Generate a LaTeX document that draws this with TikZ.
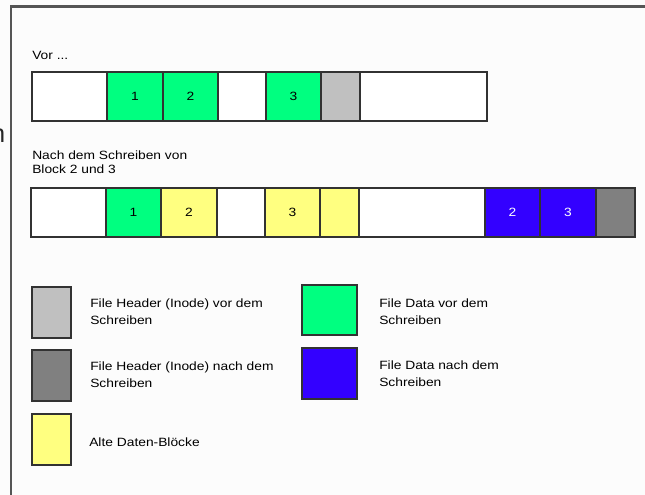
\documentclass[tikz,border=0pt]{standalone}
\usepackage{fontspec}
\setmainfont[FakeStretch=1.15]{Liberation Sans}
\newfontfamily\cutfont{Liberation Sans}
\usetikzlibrary{fit}
\definecolor{fgreen}{RGB}{0,255,128}
\definecolor{fyellow}{RGB}{255,255,128}
\definecolor{fblue}{RGB}{51,0,255}
\definecolor{lgray}{RGB}{192,192,192}
\definecolor{dgray}{RGB}{128,128,128}
\definecolor{edge}{RGB}{50,50,50}
\definecolor{framec}{RGB}{85,85,85}
\definecolor{bgc}{RGB}{252,252,252}
\tikzset{
  blk/.style={draw=edge, line width=1.1pt, inner sep=0pt},
  txt/.style={inner sep=0pt, font=\fontsize{9}{10.5}\selectfont, align=left},
  ltxt/.style={inner sep=0pt, font=\fontsize{9}{12.6}\selectfont, align=left, anchor=west},
  num/.style={font=\fontsize{9}{10.5}\selectfont}
}
\begin{document}
\begin{tikzpicture}[x=0.75pt,y=-0.75pt]
\useasboundingbox (0,0) rectangle (645,495);
\fill[bgc] (-5,-5) rectangle (650,500);
% frame
\draw[framec, line width=1.6pt] (11,500) -- (11,6.5) -- (650,6.5);
\node[inner sep=0pt, anchor=base east, font=\cutfont\fontsize{19}{19}\selectfont, text=black!85] (cut) at (5.5,143) {n};
% row 1
\node[txt, anchor=west] (vor) at (32,55) {Vor ...};
\node[blk, fill=white, fit={(32,72) (107,121)}] (a1) {};
\node[blk, fill=fgreen, fit={(107,72) (163,121)}, label={[num]center:1}] (a2) {};
\node[blk, fill=fgreen, fit={(163,72) (218,121)}, label={[num]center:2}] (a3) {};
\node[blk, fill=white, fit={(218,72) (266,121)}] (a4) {};
\node[blk, fill=fgreen, fit={(266,72) (321,121)}, label={[num]center:3}] (a5) {};
\node[blk, fill=lgray, fit={(321,72) (360,121)}] (a6) {};
\node[blk, fill=white, fit={(360,72) (487,121)}] (a7) {};
% row 2
\node[txt, anchor=west] (nach) at (32,162) {Nach dem Schreiben von\\Block 2 und 3};
\node[blk, fill=white, fit={(31,188) (106,237)}] (b1) {};
\node[blk, fill=fgreen, fit={(106,188) (161,237)}, label={[num]center:1}] (b2) {};
\node[blk, fill=fyellow, fit={(161,188) (217,237)}, label={[num]center:2}] (b3) {};
\node[blk, fill=white, fit={(217,188) (265,237)}] (b4) {};
\node[blk, fill=fyellow, fit={(265,188) (320,237)}, label={[num]center:3}] (b5) {};
\node[blk, fill=fyellow, fit={(320,188) (359,237)}] (b6) {};
\node[blk, fill=white, fit={(359,188) (485,237)}] (b7) {};
\node[blk, fill=fblue, fit={(485,188) (540,237)}, label={[num,text=white]center:2}] (b8) {};
\node[blk, fill=fblue, fit={(540,188) (596,237)}, label={[num,text=white]center:3}] (b9) {};
\node[blk, fill=dgray, fit={(596,188) (635,237)}] (b10) {};
% legend
\node[blk, fill=lgray, fit={(32,287) (71,338)}] (l1) {};
\node[ltxt] (t1) at (90,311.5) {File Header (Inode) vor dem\\Schreiben};
\node[blk, fill=dgray, fit={(32,350) (71,401)}] (l2) {};
\node[ltxt] (t2) at (90,375) {File Header (Inode) nach dem\\Schreiben};
\node[blk, fill=fyellow, fit={(32,414) (71,465)}] (l3) {};
\node[ltxt] (t3) at (89,442) {Alte Daten-Blöcke};
\node[blk, fill=fgreen, fit={(302,285) (357,335)}] (l4) {};
\node[ltxt] (t4) at (379,311.5) {File Data vor dem\\Schreiben};
\node[blk, fill=fblue, fit={(302,348) (357,399)}] (l5) {};
\node[ltxt] (t5) at (379,374) {File Data nach dem\\Schreiben};
\end{tikzpicture}
\end{document}
